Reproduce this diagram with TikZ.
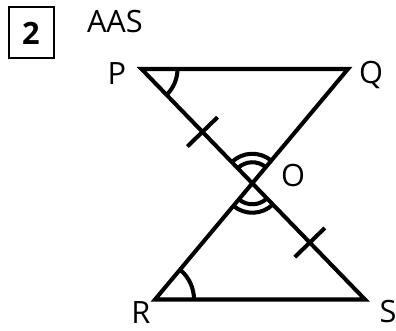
\documentclass[tikz,border=0pt]{standalone}
\usepackage{fontspec}
\setmainfont{Open Sans}
\usetikzlibrary{angles,calc}

\begin{document}
\begin{tikzpicture}[x=0.02cm, y=0.02cm, line width=2.3pt, line join=miter,
  lbl/.style={inner sep=0pt, anchor=base, font=\fontsize{17.5}{20}\selectfont},
  angarc/.style={draw, line width=2.3pt, angle radius=#1}]
\def\tick{0.42cm}
\useasboundingbox (0,0) rectangle (396,331);

% Problem number and rule
\node[draw, line width=1.1pt, minimum width=0.9cm, minimum height=1.02cm,
      inner sep=0pt] (numbox) at (31.5,298.5) {};
\node[lbl, font=\fontsize{17.5}{20}\selectfont\bfseries] (num) at (31,286) {2};
\node[lbl, anchor=base west] (rule) at (85,298) {AAS};

% Vertices
\coordinate (P) at (141.5,262);
\coordinate (Q) at (348,262);
\coordinate (R) at (155,31.5);
\coordinate (S) at (365,31.5);
\coordinate (O) at (intersection of P--S and Q--R);

% Two triangles meeting at O
\draw (P) -- (Q) -- (R) -- (S) -- cycle;

% Equal angles
\pic[angarc=0.72cm] {angle=O--P--Q};
\pic[angarc=0.78cm] {angle=S--R--O};
\pic[angarc=0.42cm] {angle=Q--O--P};
\pic[angarc=0.59cm] {angle=Q--O--P};
\pic[angarc=0.42cm] {angle=R--O--S};
\pic[angarc=0.59cm] {angle=R--O--S};

% Equal sides PO and OS
\coordinate (T1) at ($(P)!0.55!(O)$);
\coordinate (T2) at ($(O)!0.51!(S)$);
\draw ($(T1)!\tick!90:(O)$) -- ($(T1)!\tick!-90:(O)$);
\draw ($(T2)!\tick!90:(S)$) -- ($(T2)!\tick!-90:(S)$);

% Vertex labels
\foreach \v/\x/\y in {P/117/246, Q/371/247, O/293/144.5, R/141/7, S/388/8}
  \node[lbl] (lbl\v) at (\x,\y) {\v};

\end{tikzpicture}
\end{document}
